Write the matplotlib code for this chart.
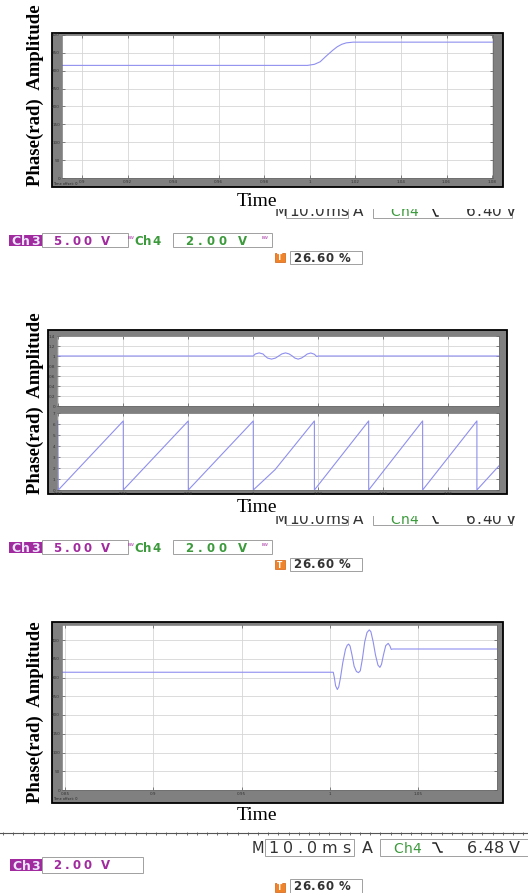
import matplotlib
matplotlib.use("Agg")
import matplotlib.pyplot as plt
from matplotlib.patches import Rectangle
from matplotlib.ticker import FuncFormatter
import numpy as np

W, H = 528, 893

# panel 1: amplitude step
p1_time = [0.891, 0.999, 1.002, 1.0045, 1.007, 1.010, 1.012, 1.014, 1.016, 1.019, 1.0805]
p1_value = [315, 315, 318, 325, 340, 357, 367, 374, 378, 380, 380]
p1_xticks = [0.9, 0.92, 0.94, 0.96, 0.98, 1.0, 1.02, 1.04, 1.06, 1.08]
p1_yticks = [0, 50, 100, 150, 200, 250, 300, 350, 400]

# panel 2: amplitude (top) and phase (bottom)
p2_amp_time = [0.9397, 1.0000, 1.0006, 1.0018, 1.0030, 1.0036, 1.0044, 1.0056,
               1.0068, 1.0078, 1.0088, 1.0099, 1.0110, 1.0120, 1.0128, 1.0138,
               1.0148, 1.0158, 1.0166, 1.0177, 1.0188, 1.0195, 1.0200, 1.0756]
p2_amp_value = [1.0, 1.0, 1.04, 1.062, 1.04, 1.0, 0.958, 0.938,
                0.958, 1.0, 1.042, 1.062, 1.042, 1.0, 0.958, 0.938,
                0.958, 1.0, 1.04, 1.06, 1.035, 0.99, 1.0, 1.0]
p2_phase_time = [0.9398, 0.9400, 0.96, 0.96, 0.98, 0.98, 1.00, 1.00, 1.0067,
                 1.0188, 1.0188, 1.0355, 1.0355, 1.0521, 1.0521, 1.0688, 1.0688, 1.0756]
p2_phase_value = [6.28, 0, 6.28, 0, 6.28, 0, 6.28, 0, 1.85,
                  6.28, 0, 6.28, 0, 6.28, 0, 6.28, 0, 2.2]
p2_xticks = [0.94, 0.96, 0.98, 1.0, 1.02, 1.04, 1.06]
p2_amp_yticks = [0, 0.2, 0.4, 0.6, 0.8, 1.0, 1.2, 1.4]
p2_phase_yticks = [0, 1, 2, 3, 4, 5, 6, 7]

# panel 3: amplitude with oscillation
p3_time = [0.848, 1.0019, 1.0025, 1.0032, 1.0042, 1.0050, 1.0060, 1.0073, 1.0088,
           1.0098, 1.0106, 1.0114, 1.0125, 1.0137, 1.0150, 1.0162, 1.0172, 1.0184,
           1.0197, 1.0210, 1.0223, 1.0232, 1.0245, 1.0258, 1.0272, 1.0283, 1.0292,
           1.0303, 1.0316, 1.0330, 1.0340, 1.0347, 1.0355, 1.095]
p3_value = [314, 314, 300, 278, 268, 275, 300, 340, 375,
            386, 389, 384, 360, 330, 316, 313, 318, 350,
            395, 420, 427, 422, 395, 360, 333, 327, 335,
            360, 385, 391, 384, 375, 376, 376]
p3_xticks = [0.85, 0.9, 0.95, 1.0, 1.05]
p3_yticks = [0, 50, 100, 150, 200, 250, 300, 350, 400]

TRACE = "#8f8ff0"
PURPLE = "#a02a9e"
GREEN = "#3c9a3c"
DARK = "#333333"

fig = plt.figure(figsize=(W / 100, H / 100), dpi=100)

# overlay axes in pixel coordinates
ov = fig.add_axes([0, 0, 1, 1], zorder=0)
ov.set_xlim(0, W)
ov.set_ylim(H, 0)
ov.axis("off")


def rect(x0, y0, x1, y1):
    return [x0 / W, 1 - y1 / H, (x1 - x0) / W, (y1 - y0) / H]


def frame(x0, y0, x1, y1):
    ov.add_patch(Rectangle((x0, y0), x1 - x0, y1 - y0, fc="#808080", ec="black", lw=1.3))


fmt = FuncFormatter(lambda v, p: "%g" % v)


def scope_axes(box, xlim, ylim, xticks, yticks, xlabels=True):
    ax = fig.add_axes(rect(*box), zorder=2)
    ax.set_facecolor("white")
    ax.set_xlim(*xlim)
    ax.set_ylim(*ylim)
    ax.set_xticks(xticks)
    ax.set_yticks(yticks)
    ax.xaxis.set_major_formatter(fmt)
    ax.yaxis.set_major_formatter(fmt)
    ax.grid(True, color="#d6d6d6", lw=0.6)
    ax.tick_params(direction="in", length=2, width=0.4, top=True, right=True,
                   labelsize=3, pad=1.5, colors="#333333", labelbottom=xlabels)
    for s in ax.spines.values():
        s.set_color("#6a6a6a")
        s.set_linewidth(0.5)
    return ax


# ---- panel 1
frame(52, 33, 503, 187)
ax1 = scope_axes((62, 35, 493, 178), (0.8912, 1.0804), (0, 400), p1_xticks, p1_yticks)
ax1.plot(p1_time, p1_value, color=TRACE, lw=0.8)
ov.text(53, 184, "Time offset: 0", fontsize=2.5, color="#222222", va="center")

# ---- panel 2
frame(48, 330, 507, 494)
ax2a = scope_axes((57, 336, 499, 406), (0.9396, 1.0756), (0, 1.4), p2_xticks, p2_amp_yticks,
                  xlabels=False)
ax2a.plot(p2_amp_time, p2_amp_value, color=TRACE, lw=0.8)
ax2b = scope_axes((57, 413, 499, 490), (0.9396, 1.0756), (0, 7), p2_xticks, p2_phase_yticks)
ax2b.plot(p2_phase_time, p2_phase_value, color=TRACE, lw=0.8)

# ---- panel 3
frame(52, 622, 503, 803)
ax3 = scope_axes((62, 625, 497, 790), (0.8483, 1.0946), (0, 440), p3_xticks, p3_yticks)
ax3.plot(p3_time, p3_value, color=TRACE, lw=0.8)
ov.text(53, 799, "Time offset: 0", fontsize=2.5, color="#222222", va="center")

# ---- axis labels
for yc in [95, 403, 712]:
    ov.text(35, yc, "Phase(rad)  Amplitude", rotation=90, fontfamily="Liberation Serif",
            fontweight="bold", fontsize=13.5, ha="center", va="center")
for yc in [201, 508, 816]:
    ov.text(257, yc, "Time", fontfamily="Liberation Serif", fontsize=14,
            ha="center", va="center", zorder=5)

renderer = fig.canvas.get_renderer()


def fit_text(x0, x1, base, s, color, size=8.5, weight="bold", z=2):
    # spread single glyphs over x0..x1 (the scope font is letter-spaced)
    items = []
    for ch in s:
        if ch == " ":
            items.append((None, size * 0.3))
            continue
        t = ov.text(x0, base, ch, color=color, fontsize=size, fontweight=weight,
                    fontfamily="DejaVu Sans", va="baseline", ha="left", zorder=z)
        items.append((t, t.get_window_extent(renderer).width))
    gap = 0
    if len(items) > 1:
        gap = max((x1 - x0 - sum(w for _, w in items)) / (len(items) - 1), 0.6)
    x = x0
    for t, w in items:
        if t is not None:
            t.set_x(x)
        x += w + gap


def box(x0, y0, x1, y1, fc="white", ec="#a0a0a0"):
    ov.add_patch(Rectangle((x0, y0), x1 - x0, y1 - y0, fc=fc, ec=ec, lw=0.7, zorder=1))


def trigger(x, top, bottom):
    ov.plot([x, x + 3, x + 7, x + 9], [top, top, bottom, bottom], color="#222222", lw=1.1,
            zorder=2)


def t_icon(x0, y0, x1, y1):
    ov.add_patch(Rectangle((x0, y0), x1 - x0, y1 - y0, fc="#f0842a", ec="#d06010", lw=0.5,
                           zorder=2))
    ov.text((x0 + x1) / 2, (y0 + y1) / 2 + 0.5, "T", color="white", fontsize=5.5,
            fontweight="bold", ha="center", va="center", zorder=3)


def status_top(dy, level):
    # time base line, its top is cut off in the screenshot
    box(286, 203 + dy, 348, 218 + dy)
    box(373, 203 + dy, 512, 218 + dy)
    fit_text(275, 285, 216.5 + dy, "M", DARK, size=10.5, weight="normal")
    fit_text(289, 343, 216.5 + dy, "10.0ms", DARK, size=11, weight="normal")
    fit_text(353, 361, 216.5 + dy, "A", DARK, size=11, weight="normal")
    fit_text(390, 418, 216.5 + dy, "Ch4", GREEN, size=10, weight="normal")
    trigger(429, 207 + dy, 216 + dy)
    fit_text(466, 509, 216.5 + dy, level, DARK, size=11, weight="normal")
    ov.add_patch(Rectangle((265, 190 + dy), 263, 18.5, fc="white", ec="none", zorder=4))
    # channel row
    ov.add_patch(Rectangle((9, 235 + dy), 33, 11, fc=PURPLE, ec="none", zorder=2))
    fit_text(11, 40, 244.8 + dy, "Ch3", "#ece6ff", size=9, z=3)
    box(42, 233 + dy, 128, 247 + dy)
    fit_text(53, 110, 245 + dy, "5.00 V", PURPLE)
    ov.text(127.5, 238 + dy, "BW", fontsize=3, color=PURPLE, va="center", zorder=2)
    fit_text(134, 159, 245 + dy, "Ch4", GREEN, size=8.5)
    box(173, 233 + dy, 272, 247 + dy)
    fit_text(185, 247, 245 + dy, "2.00 V", GREEN)
    ov.text(262, 238 + dy, "BW", fontsize=3, color=PURPLE, va="center", zorder=2)
    # trigger position row
    t_icon(275, 253 + dy, 285, 262 + dy)
    box(290, 251 + dy, 362, 264 + dy)
    fit_text(293, 350, 261.5 + dy, "26.60 %", DARK)


status_top(0, "6.40 V")
status_top(307, "6.40 V")

# ---- panel 3 status
ov.plot([0, W], [833, 833], color="#555555", lw=0.8)
ticks = np.arange(3, W, 10.2)
ov.vlines(ticks, 831.5, 834.5, color="#555555", lw=0.6)
box(265, 839, 354, 856)
box(380, 839, 535, 856)
fit_text(252, 262, 853, "M", DARK, size=10.5, weight="normal")
fit_text(268, 350, 853, "10.0ms", DARK, size=11.5, weight="normal")
fit_text(362, 372, 853, "A", DARK, size=11.5, weight="normal")
fit_text(393, 421, 853, "Ch4", GREEN, size=10, weight="normal")
trigger(433, 843, 852)
fit_text(467, 518, 853, "6.48 V", DARK, size=11.5, weight="normal")
ov.add_patch(Rectangle((10, 859), 32, 12, fc=PURPLE, ec="none", zorder=2))
fit_text(12, 40, 869.5, "Ch3", "#ece6ff", size=9, z=3)
box(42, 857, 143, 873)
fit_text(53, 110, 869, "2.00 V", PURPLE)
t_icon(275, 883, 285, 892)
box(290, 879, 362, 896)
fit_text(293, 350, 890.5, "26.60 %", DARK)

fig.savefig("out.png", dpi=100)
